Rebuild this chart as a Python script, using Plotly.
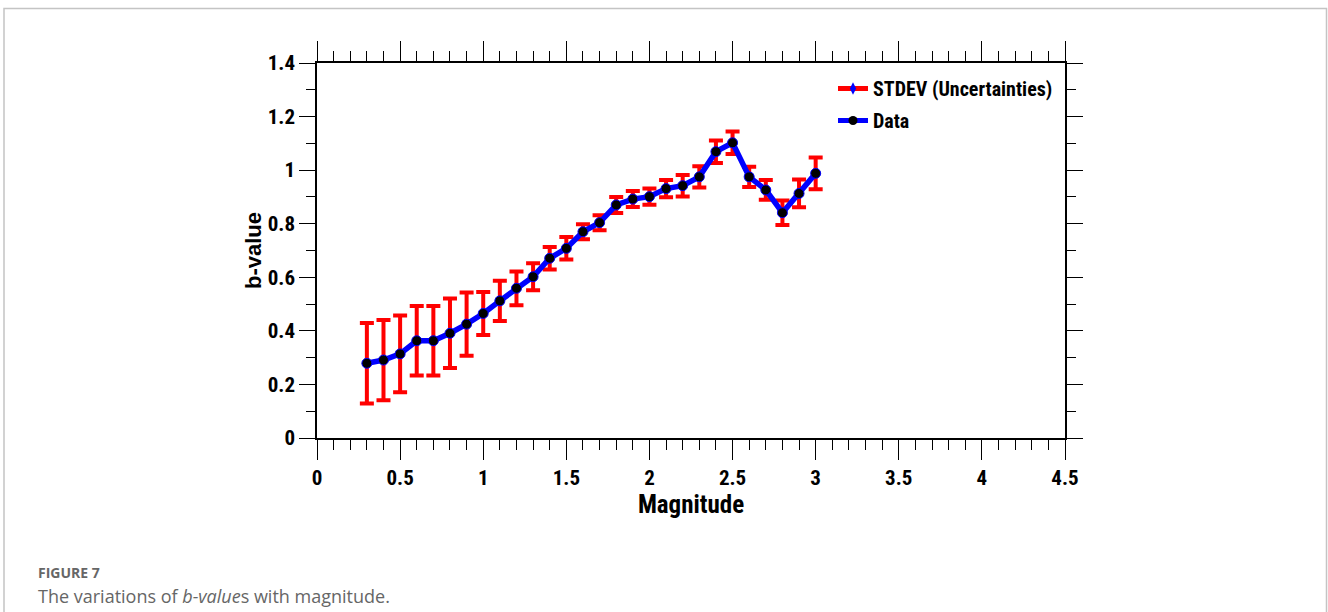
import plotly.graph_objects as go

# ---- data ----
magnitude = [0.3, 0.4, 0.5, 0.6, 0.7, 0.8, 0.9, 1.0, 1.1, 1.2, 1.3, 1.4, 1.5, 1.6,
             1.7, 1.8, 1.9, 2.0, 2.1, 2.2, 2.3, 2.4, 2.5, 2.6, 2.7, 2.8, 2.9, 3.0]
b_value = [0.279, 0.291, 0.314, 0.363, 0.363, 0.391, 0.425, 0.465, 0.512, 0.559,
           0.602, 0.671, 0.708, 0.770, 0.804, 0.870, 0.892, 0.901, 0.931, 0.942,
           0.975, 1.069, 1.102, 0.975, 0.926, 0.841, 0.913, 0.988]
stdev = [0.150, 0.150, 0.143, 0.130, 0.130, 0.130, 0.118, 0.080, 0.075, 0.063,
         0.050, 0.042, 0.042, 0.028, 0.028, 0.030, 0.030, 0.030, 0.032, 0.040,
         0.040, 0.042, 0.042, 0.038, 0.037, 0.046, 0.052, 0.059]

# ---- layout geometry (pixels) ----
W, H = 1328, 612
L, R, T, B = 317, 1065, 63, 438


def px_x(p):
    return (p - L) / (R - L)


def px_y(p):
    return (B - p) / (B - T)


NARROW = "Roboto Condensed, Roboto, sans-serif"
ARIAL = "Liberation Sans, Arial, sans-serif"
CAP = "Open Sans, Noto Sans, sans-serif"

fig = go.Figure()

# uncertainties (error bars)
fig.add_trace(go.Scatter(
    x=magnitude, y=b_value, mode="markers",
    marker=dict(color="rgba(0,0,0,0)", size=2),
    error_y=dict(type="data", array=stdev, visible=True,
                 color="#ff0000", thickness=4, width=7),
    showlegend=False, hoverinfo="skip",
))
# data line
fig.add_trace(go.Scatter(
    x=magnitude, y=b_value, mode="lines+markers", name="Data",
    line=dict(color="#0000ff", width=5.5),
    marker=dict(color="#000000", size=10, symbol="circle",
                line=dict(color="#0000ff", width=1)),
    showlegend=False,
))
# legend entries
fig.add_trace(go.Scatter(
    x=[None], y=[None], mode="lines+markers", name="STDEV (Uncertainties)",
    line=dict(color="#ff0000", width=5),
    marker=dict(color="#0000ff", size=9, symbol="diamond-tall"),
    legend="legend",
))
fig.add_trace(go.Scatter(
    x=[None], y=[None], mode="lines+markers", name="Data",
    line=dict(color="#0000ff", width=5),
    marker=dict(color="#000000", size=9, symbol="circle"),
    legend="legend2",
))

axis_common = dict(
    showline=True, linecolor="#000000", linewidth=1.5, mirror="allticks",
    ticks="outside", tickcolor="#000000", tickwidth=1.3,
    showgrid=False, zeroline=False,
    tickfont=dict(family=NARROW, size=21, color="#000000", weight="bold"),
)

fig.update_layout(
    width=W, height=H,
    margin=dict(l=L, r=W - R, t=T, b=H - B, autoexpand=False),
    paper_bgcolor="white", plot_bgcolor="white",
    xaxis=dict(
        range=[0, 4.5], tick0=0, dtick=0.5, ticklen=20,
        minor=dict(dtick=0.1, ticklen=10, ticks="outside",
                   tickcolor="#000000", tickwidth=1.2, showgrid=False),
        title=dict(text="Magnitude", standoff=2,
                   font=dict(family=NARROW, size=25, color="#000000", weight="bold")),
        **axis_common,
    ),
    yaxis=dict(
        range=[0, 1.4], tick0=0, dtick=0.2, ticklen=16,
        minor=dict(dtick=0.1, ticklen=9, ticks="outside",
                   tickcolor="#000000", tickwidth=1.2, showgrid=False),
        title=dict(text="b-value", standoff=0,
                   font=dict(family=ARIAL, size=22, color="#000000", weight="bold")),
        **axis_common,
    ),
    legend=dict(x=px_x(833), y=px_y(69), xanchor="left", yanchor="top",
                bgcolor="rgba(0,0,0,0)",
                font=dict(family=NARROW, size=20, color="#000000", weight="bold")),
    legend2=dict(x=px_x(833), y=px_y(101), xanchor="left", yanchor="top",
                 bgcolor="rgba(0,0,0,0)",
                 font=dict(family=NARROW, size=20, color="#000000", weight="bold")),
    shapes=[dict(type="rect", xref="paper", yref="paper",
                 x0=px_x(4), x1=px_x(1326.5), y0=px_y(660), y1=px_y(8.5),
                 line=dict(color="#c4c4c4", width=1.5), layer="below")],
    annotations=[
        dict(text="<b>FIGURE 7</b>", xref="paper", yref="paper",
             x=px_x(36), y=px_y(572), xanchor="left", yanchor="middle",
             showarrow=False, font=dict(family=CAP, size=14, color="#666666")),
        dict(text="The variations of <i>b-value</i>s with magnitude.",
             xref="paper", yref="paper",
             x=px_x(36), y=px_y(596), xanchor="left", yanchor="middle",
             showarrow=False, font=dict(family=CAP, size=18, color="#666666")),
    ],
    hovermode=False,
)

fig.write_html("out.html")
